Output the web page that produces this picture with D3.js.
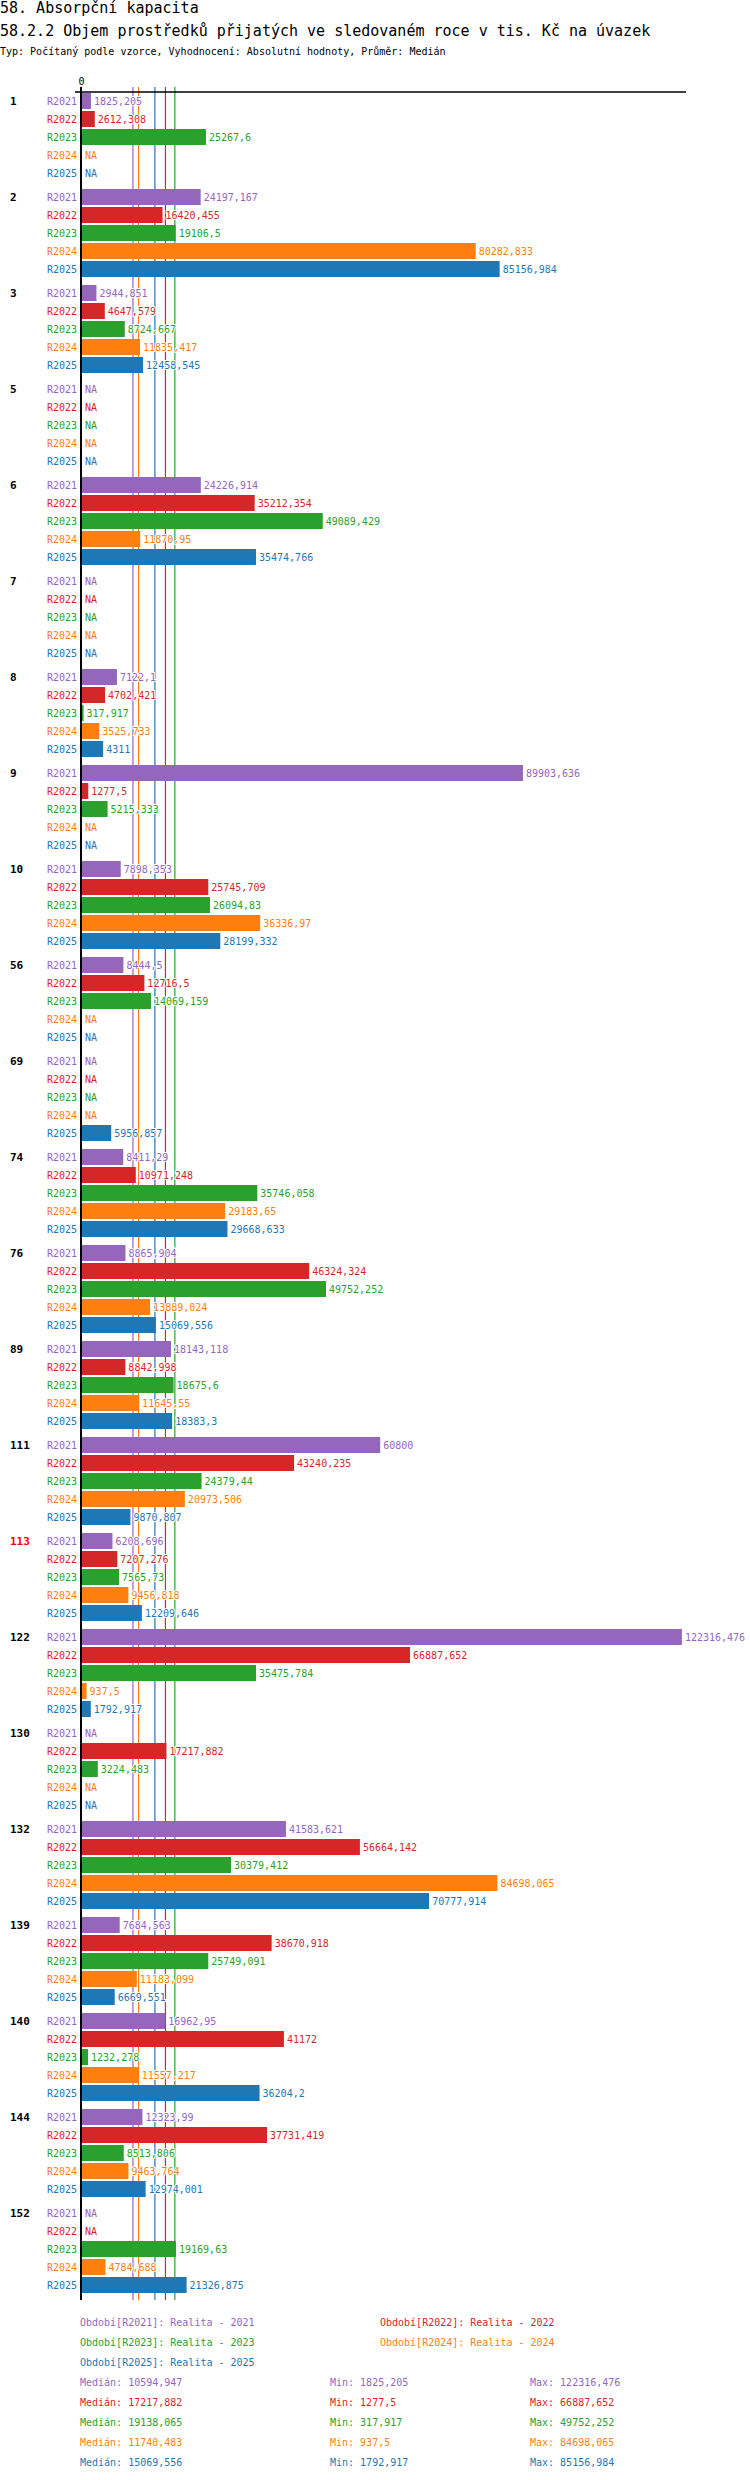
<!DOCTYPE html>
<html>
<head>
<meta charset="utf-8">
<script src="https://cdn.jsdelivr.net/npm/d3@7"></script>
<style>
  body { margin: 0; background: #fff; }
  text { font-family: "DejaVu Sans Mono", "Liberation Mono", monospace; }
</style>
</head>
<body>
<svg id="chart" width="750" height="2480"></svg>
<script>
// ---- data ---------------------------------------------------------------
var groups = ["1","2","3","5","6","7","8","9","10","56","69","74","76","89","111","113","122","130","132","139","140","144","152"];
var highlighted = ["113"];
var seriesKeys = ["R2021","R2022","R2023","R2024","R2025"];
var seriesNames = ["Realita - 2021","Realita - 2022","Realita - 2023","Realita - 2024","Realita - 2025"];
var seriesColors = ["#9467bd","#d62728","#2ca02c","#ff7f0e","#1f77b4"];

var r2021 = [1825.205, 24197.167, 2944.851, null, 24226.914, null, 7122.1, 89903.636, 7898.353, 8444.5, null, 8411.29, 8865.904, 18143.118, 60800, 6208.696, 122316.476, null, 41583.621, 7684.563, 16962.95, 12323.99, null];
var r2022 = [2612.308, 16420.455, 4647.579, null, 35212.354, null, 4702.421, 1277.5, 25745.709, 12716.5, null, 10971.248, 46324.324, 8842.998, 43240.235, 7207.276, 66887.652, 17217.882, 56664.142, 38670.918, 41172, 37731.419, null];
var r2023 = [25267.6, 19106.5, 8724.667, null, 49089.429, null, 317.917, 5215.333, 26094.83, 14069.159, null, 35746.058, 49752.252, 18675.6, 24379.44, 7565.73, 35475.784, 3224.483, 30379.412, 25749.091, 1232.278, 8513.806, 19169.63];
var r2024 = [null, 80282.833, 11835.417, null, 11870.95, null, 3525.733, null, 36336.97, null, null, 29183.65, 13889.024, 11645.55, 20973.506, 9456.818, 937.5, null, 84698.065, 11183.099, 11557.217, 9463.764, 4784.688];
var r2025 = [null, 85156.984, 12458.545, null, 35474.766, null, 4311, null, 28199.332, null, 5956.857, 29668.633, 15069.556, 18383.3, 9870.807, 12209.646, 1792.917, null, 70777.914, 6669.551, 36204.2, 12974.001, 21326.875];

var medians = [10594.947, 17217.882, 19138.065, 11740.483, 15069.556];
var mins    = [1825.205, 1277.5, 317.917, 937.5, 1792.917];
var maxs    = [122316.476, 66887.652, 49752.252, 84698.065, 85156.984];

var title = "58. Absorpční kapacita";
var subtitle = "58.2.2 Objem prostředků přijatých ve sledovaném roce v tis. Kč na úvazek";
var typeLine = "Typ: Počítaný podle vzorce, Vyhodnocení: Absolutní hodnoty, Průměr: Medián";
//--------------------------------------------------------------------------

var seriesValues = [r2021, r2022, r2023, r2024, r2025];
var fmt = function(v) { return String(v).replace(".", ","); };

var rows = [];
groups.forEach(function(g, gi) {
    seriesKeys.forEach(function(k, si) {
        rows.push({group: g, key: k, si: si, value: seriesValues[si][gi]});
    });
});

var svg = d3.select("#chart");
var margin = {top: 92, left: 81, right: 64};
var plotBottom = 2300;

var x = d3.scaleLinear()
    .domain([0, d3.max(maxs) * 1.0085])
    .range([margin.left, 750 - margin.right]);

var yGroup = d3.scaleBand()
    .domain(groups)
    .range([margin.top, margin.top + 96 * groups.length - 6])
    .paddingInner(6 / 96)
    .paddingOuter(0);

var ySeries = d3.scaleBand()
    .domain(seriesKeys)
    .range([0, yGroup.bandwidth()])
    .paddingInner(2 / 18)
    .paddingOuter(1 / 18);

var color = d3.scaleOrdinal().domain(seriesKeys).range(seriesColors);

// titles
svg.append("text").attr("x", 0).attr("y", 13).attr("font-size", "15px").text(title);
svg.append("text").attr("x", 0).attr("y", 36).attr("font-size", "15px").text(subtitle);
svg.append("text").attr("x", 0).attr("y", 55).attr("font-size", "10px").text(typeLine);

// median lines
svg.append("g").selectAll("line")
    .data(medians)
    .enter().append("line")
    .attr("x1", d => x(d)).attr("x2", d => x(d))
    .attr("y1", margin.top - 5).attr("y2", plotBottom)
    .attr("stroke", (d, i) => seriesColors[i])
    .attr("stroke-width", 1.2);

// top axis
var axis = svg.append("g")
    .attr("transform", `translate(0,${margin.top})`)
    .call(d3.axisTop(x).tickValues([0]).tickSize(0).tickSizeOuter(0).tickPadding(7));
axis.select(".domain").remove();
axis.selectAll("text").attr("font-family", "DejaVu Sans Mono, monospace").attr("font-size", "10px").attr("fill", "#000");
svg.append("line")
    .attr("x1", margin.left - 6).attr("x2", x.range()[1])
    .attr("y1", margin.top).attr("y2", margin.top)
    .attr("stroke", "#000").attr("stroke-width", 1.5);

// bars
svg.append("g").selectAll("rect")
    .data(rows.filter(d => d.value != null))
    .enter().append("rect")
    .attr("x", x(0) + 1)
    .attr("y", d => yGroup(d.group) + ySeries(d.key))
    .attr("width", d => x(d.value) - x(0))
    .attr("height", ySeries.bandwidth())
    .attr("fill", d => color(d.key));

// zero line
svg.append("line")
    .attr("x1", x(0)).attr("x2", x(0))
    .attr("y1", margin.top - 5).attr("y2", plotBottom)
    .attr("stroke", "#000").attr("stroke-width", 2);

// value labels
svg.append("g").selectAll("text")
    .data(rows)
    .enter().append("text")
    .attr("x", d => (d.value == null ? x(0) : x(d.value)) + 4)
    .attr("y", d => yGroup(d.group) + ySeries(d.key) + ySeries.bandwidth() / 2)
    .attr("dy", "0.35em")
    .attr("font-size", "10px")
    .attr("fill", d => color(d.key))
    .attr("stroke", "#fff").attr("stroke-width", 2).attr("paint-order", "stroke")
    .text(d => d.value == null ? "NA" : fmt(d.value));

// series labels
svg.append("g").selectAll("text")
    .data(rows)
    .enter().append("text")
    .attr("x", x(0) - 4)
    .attr("y", d => yGroup(d.group) + ySeries(d.key) + ySeries.bandwidth() / 2)
    .attr("dy", "0.35em")
    .attr("text-anchor", "end")
    .attr("font-size", "10px")
    .attr("fill", d => color(d.key))
    .text(d => d.key);

// group labels
svg.append("g").selectAll("text")
    .data(groups)
    .enter().append("text")
    .attr("x", 10)
    .attr("y", d => yGroup(d) + ySeries(seriesKeys[0]) + ySeries.bandwidth() / 2)
    .attr("dy", "0.35em")
    .attr("font-size", "11px")
    .attr("font-weight", "bold")
    .attr("fill", d => highlighted.includes(d) ? "#ff0000" : "#000")
    .text(d => d);

// legend
var legend = svg.append("g");
seriesKeys.forEach(function(k, i) {
    legend.append("text")
        .attr("x", i % 2 == 0 ? 80 : 380)
        .attr("y", 2322 + Math.floor(i / 2) * 20)
        .attr("dy", "0.35em")
        .attr("font-size", "10px")
        .attr("fill", seriesColors[i])
        .text(`Období[${k}]: ${seriesNames[i]}`);
});

var stats = svg.append("g");
seriesKeys.forEach(function(k, i) {
    var yy = 2382 + i * 20;
    [["Medián: ", medians[i], 80], ["Min: ", mins[i], 330], ["Max: ", maxs[i], 530]].forEach(function(s) {
        stats.append("text")
            .attr("x", s[2]).attr("y", yy).attr("dy", "0.35em")
            .attr("font-size", "10px")
            .attr("fill", seriesColors[i])
            .text(s[0] + fmt(s[1]));
    });
});
</script>
</body>
</html>
